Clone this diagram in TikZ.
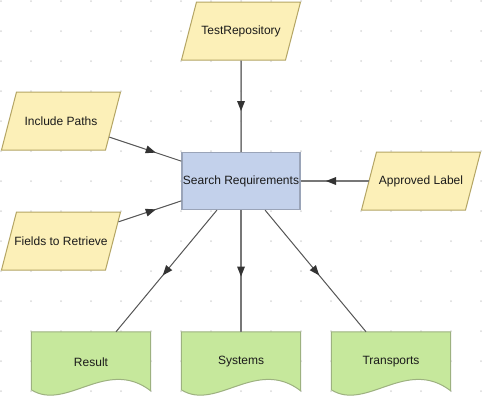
\documentclass[tikz,border=0pt]{standalone}
\usepackage{fontspec}
\setmainfont{Liberation Sans}
\usetikzlibrary{decorations.markings,calc}
\definecolor{yfill}{HTML}{FCF0B8}
\definecolor{ydraw}{HTML}{B4A564}
\definecolor{bfill}{HTML}{C3D1EB}
\definecolor{bdraw}{HTML}{9AA4B8}
\definecolor{gfill}{HTML}{C6E89C}
\definecolor{gdraw}{HTML}{9DB180}
\definecolor{dotc}{HTML}{D9D9D9}
\definecolor{linec}{HTML}{555555}
\definecolor{arrc}{HTML}{333333}
\definecolor{txtc}{HTML}{1A1A1A}
\pgfdeclarelayer{grid}
\pgfdeclarelayer{shapes}
\pgfsetlayers{grid,shapes,main}
\tikzset{
  basetext/.style={font=\fontsize{12bp}{14bp}\selectfont, text=txtc, inner sep=0pt},
  parashape/.style={transform shape, xslant=0.2586, rectangle, inner sep=0pt,
    minimum width=104bp, minimum height=58bp,
    fill=yfill, draw=ydraw, line width=1bp},
  paratext/.style={basetext},
  procbox/.style={basetext, rectangle, minimum width=118bp, minimum height=57bp,
    fill=bfill, draw=bdraw, line width=1.3bp},
  docnode/.style={basetext, rectangle, minimum width=119bp, minimum height=60bp},
  docst/.style={fill=gfill, draw=gdraw, line width=1bp},
  conn/.style={draw=linec, line width=1bp},
  connaxis/.style={draw=linec!80, line width=1.5bp},
  midarrow/.style={decoration={markings, mark=at position 0.5 with
    {\fill[arrc] (5bp,0) -- (-5bp,4bp) -- (-5bp,-4bp) -- cycle;}}, decorate},
}
\newcommand\docoutline[1]{%
  \begin{pgfonlayer}{shapes}
  \draw[docst] (#1.north west) -- (#1.north east) -- ($(#1.north east)+(0,59)$)
    .. controls ($(#1.north west)+(75,25)$) and ($(#1.north west)+(35,80)$) ..
    ($(#1.north west)+(0,58)$) -- cycle;
  \end{pgfonlayer}}
\begin{document}
\begin{tikzpicture}[x=1bp,y=-1bp]
\useasboundingbox (0,0) rectangle (483,400);
\begin{pgfonlayer}{grid}
  \fill[white] (0,0) rectangle (483,400);
  \foreach \i in {0,...,16}{
    \foreach \j in {0,...,13}{
      \fill[dotc] (1+30*\i,1+30*\j) circle (1bp);
    }
  }
\end{pgfonlayer}

\node[parashape] (tr) at (241,31) {};
\node[paratext] (trt) at (241,31) {TestRepository};
\node[parashape] (ip) at (61,121) {};
\node[paratext] (ipt) at (61,121) {Include Paths};
\node[procbox] (sr) at (241,181) {Search Requirements};
\node[parashape] (al) at (421,181) {};
\node[paratext] (alt) at (421,181) {Approved Label};
\node[parashape] (fr) at (61,241) {};
\node[paratext] (frt) at (61,241) {Fields to Retrieve};
\node[docnode] (res) at (91,362) {Result};
\node[docnode] (sys) at (241,362) {Systems};
\node[docnode] (trn) at (391,362) {Transports};
\docoutline{res}
\docoutline{sys}
\docoutline{trn}

\draw[connaxis] (tr) -- (sr);
\draw[conn] (ip) -- (sr);
\draw[connaxis] (al) -- (sr);
\draw[conn] (fr) -- (sr);
\draw[conn] (sr) -- (res);
\draw[connaxis] (sr) -- (sys);
\draw[conn] (sr) -- (trn);

\path[midarrow] (tr.center) -- (sr.center);
\path[midarrow] (ip.center) -- (sr.center);
\path[midarrow] (al.center) -- (sr.center);
\path[midarrow] (fr.center) -- (sr.center);
\path[midarrow] (sr.center) -- (res.center);
\path[midarrow] (sr.center) -- (sys.center);
\path[midarrow] (sr.center) -- (trn.center);
\end{tikzpicture}
\end{document}
